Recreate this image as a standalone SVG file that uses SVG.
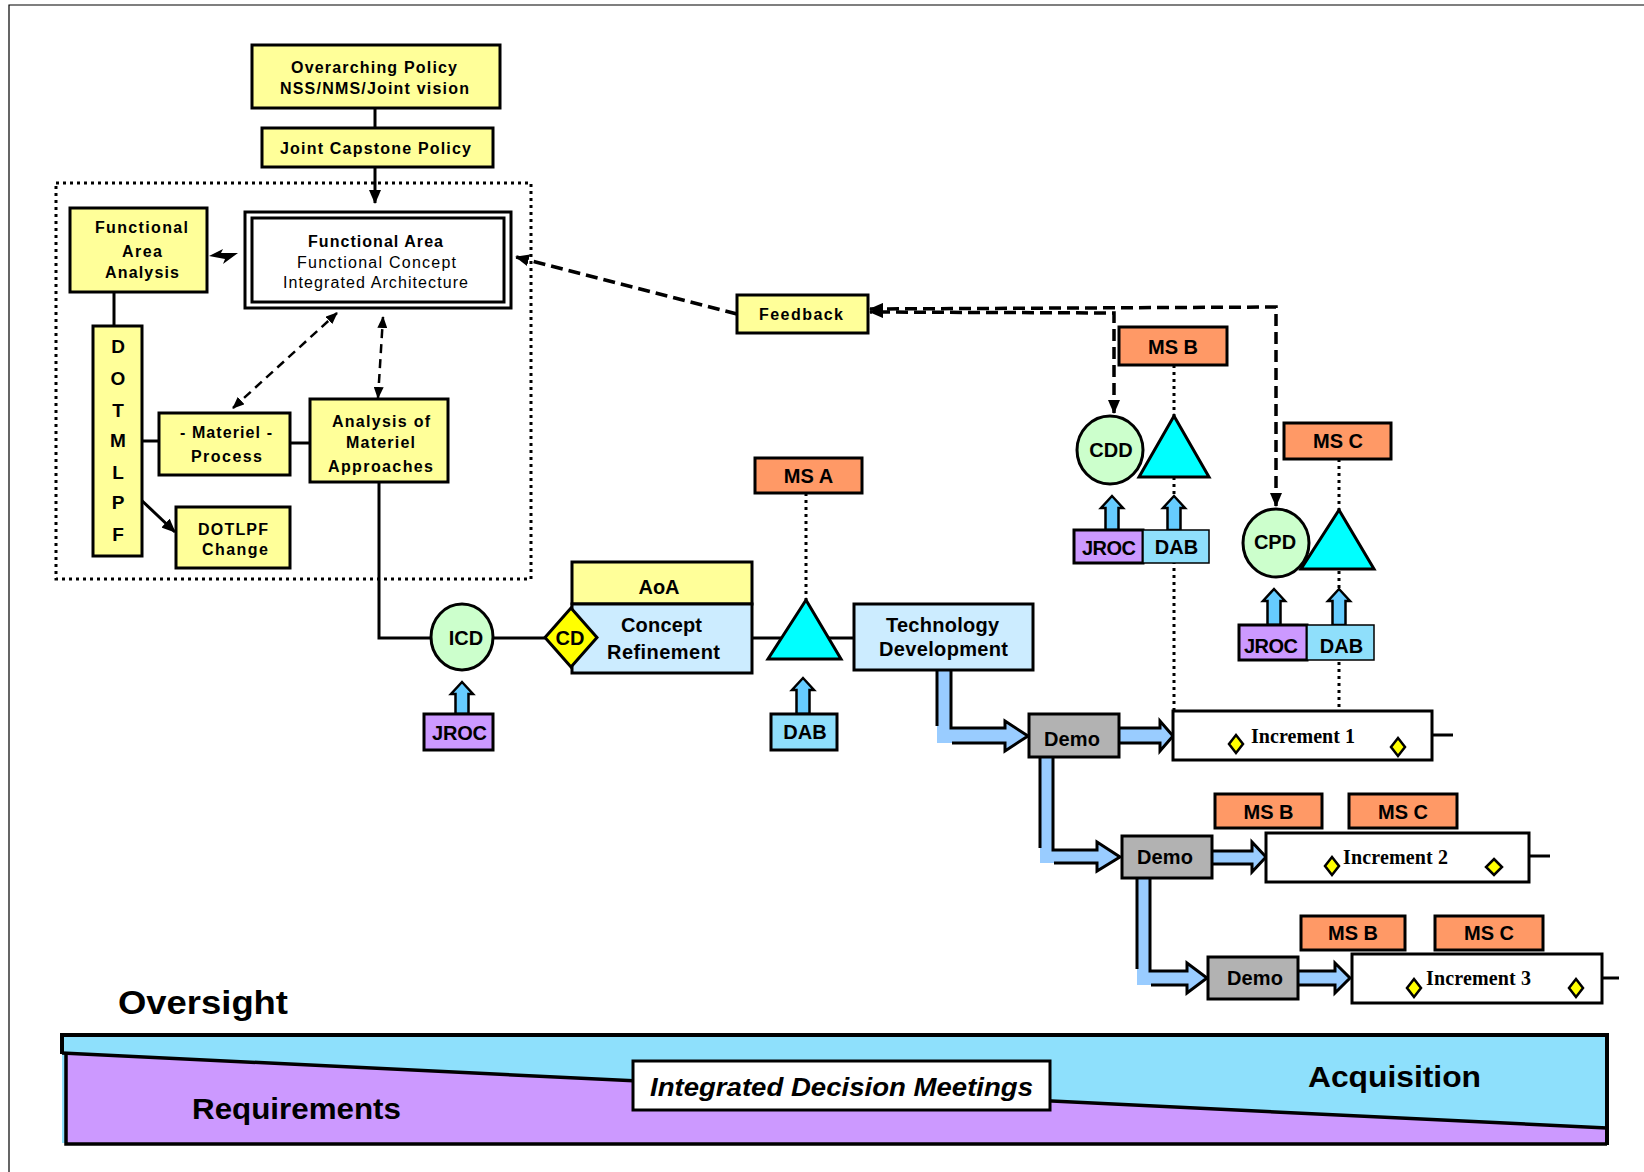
<svg xmlns="http://www.w3.org/2000/svg" width="1644" height="1172" viewBox="0 0 1644 1172">
<defs>
<style>
.b{stroke:#000;stroke-width:3}
.yl{fill:#FFFF99}.ms{fill:#FF9966}.lb{fill:#CCECFF}.gr{fill:#CCFFCC}.cy{fill:#00FFFF}.jr{fill:#CC99FF}.db{fill:#8FDFFB}.dm{fill:#B2B2B2}.wh{fill:#FFFFFF}
.ua{fill:#66CCFF;stroke:#000;stroke-width:2.5;stroke-linejoin:miter}
.t{font-family:"Liberation Sans",Arial,sans-serif;font-weight:bold;font-size:16px;text-anchor:middle;fill:#000}
.r{font-weight:normal}
.t20{font-size:20px}
.inc{font-family:"Liberation Serif","Times New Roman",serif;font-weight:bold;font-size:20px;text-anchor:middle}
.ln{stroke:#000;stroke-width:3;fill:none}
.dot{stroke:#000;stroke-width:3;fill:none;stroke-dasharray:3 4}
.dsh{stroke:#000;stroke-width:3.5;fill:none;stroke-dasharray:12 6}
.dsh2{stroke:#000;stroke-width:2.5;fill:none;stroke-dasharray:9 6}
.ba{fill:#99CCFF}
.bs{fill:none;stroke:#000;stroke-width:3;stroke-linejoin:miter}
.dia{fill:#FFFF00;stroke:#000;stroke-width:2.5}
</style>
<marker id="ah" viewBox="0 0 14 12" refX="13" refY="6" markerWidth="14" markerHeight="12" markerUnits="userSpaceOnUse" orient="auto-start-reverse"><path d="M0,0 L14,6 L0,12 Z" fill="#000"/></marker>
<marker id="ahs" viewBox="0 0 12 10" refX="11" refY="5" markerWidth="12" markerHeight="10" markerUnits="userSpaceOnUse" orient="auto-start-reverse"><path d="M0,0 L12,5 L0,10 Z" fill="#000"/></marker>
</defs>
<rect width="1644" height="1172" fill="#fff"/>
<path d="M9,1172 L9,5 L1644,5" fill="none" stroke="#000" stroke-width="1.2"/>

<g id="connectors">
<rect x="56" y="183" width="475" height="396" class="dot" stroke-width="2.5"/>
<line x1="375" y1="108" x2="375" y2="128" class="ln"/>
<line x1="375" y1="167" x2="375" y2="203" class="ln" marker-end="url(#ah)"/>
<polygon points="209,256 223,249 221,253 238,253 223,264 225,259" fill="#000"/>
<line x1="114" y1="292" x2="114" y2="326" class="ln"/>
<line x1="142" y1="441" x2="159" y2="441" class="ln"/>
<line x1="290" y1="443" x2="310" y2="443" class="ln"/>
<line x1="138" y1="497" x2="175" y2="532" class="ln" marker-end="url(#ah)"/>
<line x1="233" y1="408" x2="337" y2="313" class="dsh2" marker-start="url(#ahs)" marker-end="url(#ahs)"/>
<line x1="378" y1="398" x2="383" y2="317" class="dsh2" marker-start="url(#ahs)" marker-end="url(#ahs)"/>
<polyline points="379,482 379,638 431,638" class="ln"/>
<line x1="493" y1="638" x2="545" y2="638" class="ln"/>
<line x1="752" y1="638" x2="854" y2="638" class="ln"/>
<line x1="806" y1="493" x2="806" y2="600" class="dot"/>
<line x1="1174" y1="365" x2="1174" y2="711" class="dot"/>
<line x1="1339" y1="459" x2="1339" y2="711" class="dot"/>
<line x1="737" y1="314" x2="516" y2="257" class="dsh" marker-end="url(#ah)"/>
<polyline points="1114,413 1114,313 870,312" class="dsh" marker-start="url(#ah)" marker-end="url(#ah)"/>
<polyline points="1276,506 1276,307 870,309" class="dsh" marker-start="url(#ah)" marker-end="url(#ah)"/>
<line x1="1432" y1="735" x2="1453" y2="735" class="ln"/>
<line x1="1529" y1="856" x2="1550" y2="856" class="ln"/>
<line x1="1602" y1="978" x2="1619" y2="978" class="ln"/>
<!-- block arrows -->
<polygon class="ba" points="937,670 951,670 951,728 1005,728 1005,721 1028,736 1005,751 1005,743 937,743"/>
<polyline class="bs" points="937,670 937,726"/>
<polyline class="bs" points="951,670 951,728 1005,728 1005,721 1028,736 1005,751 1005,743 952,743"/>
<polygon class="ba" points="1119,728 1160,728 1160,721 1173,736 1160,751 1160,743 1119,743"/>
<polyline class="bs" points="1119,728 1160,728 1160,721 1173,736 1160,751 1160,743 1119,743"/>
<polygon class="ba" points="1040,757 1053,757 1053,850 1097,850 1097,842 1120,857 1097,871 1097,863 1040,863"/>
<polyline class="bs" points="1040,757 1040,848"/>
<polyline class="bs" points="1053,757 1053,850 1097,850 1097,842 1120,857 1097,871 1097,863 1054,863"/>
<polygon class="ba" points="1213,851 1252,851 1252,842 1266,857 1252,872 1252,864 1213,864"/>
<polyline class="bs" points="1213,851 1252,851 1252,842 1266,857 1252,872 1252,864 1213,864"/>
<polygon class="ba" points="1137,878 1150,878 1150,971 1187,971 1187,963 1207,978 1187,993 1187,985 1137,985"/>
<polyline class="bs" points="1137,878 1137,969"/>
<polyline class="bs" points="1150,878 1150,971 1187,971 1187,963 1207,978 1187,993 1187,985 1151,985"/>
<polygon class="ba" points="1298,971 1335,971 1335,963 1350,978 1335,993 1335,985 1298,985"/>
<polyline class="bs" points="1298,971 1335,971 1335,963 1350,978 1335,993 1335,985 1298,985"/>
<!-- up arrows -->
<polygon class="ua" points="455.5,714 455.5,694 451,694 462,682 473,694 468.5,694 468.5,714"/>
<polygon class="ua" points="796.5,714 796.5,690 792,690 803,678 814,690 809.5,690 809.5,714"/>
<polygon class="ua" points="1105.5,530 1105.5,508 1101,508 1112,496 1123,508 1118.5,508 1118.5,530"/>
<polygon class="ua" points="1167.5,530 1167.5,508 1163,508 1174,496 1185,508 1180.5,508 1180.5,530"/>
<polygon class="ua" points="1267.5,625 1267.5,601 1263,601 1274,589 1285,601 1280.5,601 1280.5,625"/>
<polygon class="ua" points="1332.5,625 1332.5,601 1328,601 1339,589 1350,601 1345.5,601 1345.5,625"/>
</g>

<g id="overarching">
<rect x="252" y="45" width="248" height="63" class="b yl"/>
<text class="t" x="374" y="73" textLength="166">Overarching Policy</text>
<text class="t" x="374.5" y="94" textLength="189">NSS/NMS/Joint vision</text>
</g>
<g id="capstone">
<rect x="262" y="128" width="231" height="39" class="b yl"/>
<text class="t" x="375.5" y="154" textLength="191">Joint Capstone Policy</text>
</g>
<g id="faa">
<rect x="70" y="208" width="137" height="84" class="b yl"/>
<text class="t" x="141.5" y="233" textLength="93">Functional</text>
<text class="t" x="142" y="257" textLength="40">Area</text>
<text class="t" x="142" y="278" textLength="74">Analysis</text>
</g>
<g id="functional-area">
<rect x="245" y="212" width="266" height="96" class="b wh"/>
<rect x="252" y="218" width="252" height="84" class="b wh"/>
<text class="t" x="375.5" y="247" textLength="135">Functional Area</text>
<text class="t r" x="376.5" y="268" textLength="159">Functional Concept</text>
<text class="t r" x="375.5" y="288" textLength="185">Integrated Architecture</text>
</g>
<g id="dotmlpf">
<rect x="93" y="326" width="49" height="230" class="b yl"/>
<text class="t" style="font-size:19px" x="118" y="353">D</text>
<text class="t" style="font-size:19px" x="118" y="385">O</text>
<text class="t" style="font-size:19px" x="118" y="417">T</text>
<text class="t" style="font-size:19px" x="118" y="447">M</text>
<text class="t" style="font-size:19px" x="118" y="479">L</text>
<text class="t" style="font-size:19px" x="118" y="509">P</text>
<text class="t" style="font-size:19px" x="118" y="541">F</text>
</g>
<g id="materiel-process">
<rect x="159" y="413" width="131" height="62" class="b yl"/>
<text class="t" x="226" y="438" textLength="92">- Materiel -</text>
<text class="t" x="226.5" y="462" textLength="71">Process</text>
</g>
<g id="aoma">
<rect x="310" y="399" width="138" height="83" class="b yl"/>
<text class="t" x="381" y="427" textLength="98">Analysis of</text>
<text class="t" x="380.5" y="448" textLength="69">Materiel</text>
<text class="t" x="380.5" y="472" textLength="105">Approaches</text>
</g>
<g id="dotlpf-change">
<rect x="176" y="507" width="114" height="61" class="b yl"/>
<text class="t" x="233" y="535" textLength="70">DOTLPF</text>
<text class="t" x="235" y="555" textLength="66">Change</text>
</g>
<g id="feedback">
<rect x="737" y="295" width="131" height="38" class="b yl"/>
<text class="t" x="801" y="320" textLength="84">Feedback</text>
</g>
<g id="icd">
<ellipse cx="462" cy="637" rx="31" ry="33" class="b gr"/>
<text class="t t20" x="466" y="645">ICD</text>
</g>
<g id="jroc-icd">
<rect x="424" y="714" width="69" height="36" class="b jr"/>
<text class="t t20" x="459.5" y="740" textLength="55">JROC</text>
</g>
<g id="aoa">
<rect x="572" y="562" width="180" height="42" class="b yl"/>
<text class="t t20" x="659" y="594">AoA</text>
</g>
<g id="concept-refinement">
<rect x="572" y="604" width="180" height="69" class="b lb"/>
<text class="t t20" x="661.5" y="632" textLength="81">Concept</text>
<text class="t t20" x="663.5" y="659" textLength="113">Refinement</text>
</g>
<g id="cd">
<polygon points="545,637.5 571,608 597,637.5 571,667" class="b" fill="#FFFF00"/>
<text class="t t20" x="570" y="645">CD</text>
</g>
<g id="ms-a">
<rect x="755" y="458" width="107" height="35" class="b ms"/>
<text class="t t20" x="808.5" y="483">MS A</text>
</g>
<g id="triangle-a">
<polygon points="806,600 841,659 768,659" class="b cy"/>
</g>
<g id="dab-a">
<rect x="771" y="714" width="66" height="36" class="b db"/>
<text class="t t20" x="805" y="739">DAB</text>
</g>
<g id="tech-dev">
<rect x="854" y="604" width="179" height="66" class="b lb"/>
<text class="t t20" x="942.5" y="632" textLength="113">Technology</text>
<text class="t t20" x="943.5" y="656" textLength="129">Development</text>
</g>
<g id="ms-b-top">
<rect x="1119" y="327" width="108" height="38" class="b ms"/>
<text class="t t20" x="1173" y="354">MS B</text>
</g>
<g id="cdd">
<ellipse cx="1110" cy="450" rx="33" ry="34" class="b gr"/>
<text class="t t20" x="1111" y="457">CDD</text>
</g>
<g id="triangle-b">
<polygon points="1174,416 1209,477 1139,477" class="b cy"/>
</g>
<g id="jroc-b">
<rect x="1074" y="530" width="69" height="33" class="b jr"/>
<text class="t t20" x="1109" y="555" textLength="54">JROC</text>
</g>
<g id="dab-b">
<rect x="1143" y="530" width="66" height="33" class="db" stroke="#000" stroke-width="1.5"/>
<text class="t t20" x="1176.5" y="554">DAB</text>
</g>
<g id="ms-c-top">
<rect x="1284" y="423" width="107" height="36" class="b ms"/>
<text class="t t20" x="1338" y="448">MS C</text>
</g>
<g id="cpd">
<ellipse cx="1276" cy="543" rx="33" ry="34" class="b gr"/>
<text class="t t20" x="1275" y="549">CPD</text>
</g>
<g id="triangle-c">
<polygon points="1339,510 1374,569 1301,569" class="b cy"/>
</g>
<g id="jroc-c">
<rect x="1239" y="625" width="68" height="35" class="b jr"/>
<text class="t t20" x="1271" y="653" textLength="54">JROC</text>
</g>
<g id="dab-c">
<rect x="1307" y="625" width="67" height="35" class="db" stroke="#000" stroke-width="1.5"/>
<text class="t t20" x="1341.5" y="653">DAB</text>
</g>
<g id="demo-1">
<rect x="1029" y="714" width="90" height="43" class="b dm"/>
<text class="t t20" x="1072" y="746" textLength="56">Demo</text>
</g>
<g id="increment-1">
<rect x="1173" y="711" width="259" height="49" class="b wh"/>
<text class="inc" x="1303" y="743" textLength="104">Increment 1</text>
<polygon class="dia" points="1236,735 1243,744 1236,753 1229,744"/>
<polygon class="dia" points="1398,738 1405,747 1398,756 1391,747"/>
</g>
<g id="demo-2">
<rect x="1122" y="836" width="90" height="42" class="b dm"/>
<text class="t t20" x="1165" y="864" textLength="56">Demo</text>
</g>
<g id="ms-b-2">
<rect x="1215" y="794" width="107" height="34" class="b ms"/>
<text class="t t20" x="1268.5" y="819">MS B</text>
</g>
<g id="ms-c-2">
<rect x="1349" y="794" width="108" height="34" class="b ms"/>
<text class="t t20" x="1403" y="819">MS C</text>
</g>
<g id="increment-2">
<rect x="1266" y="833" width="263" height="49" class="b wh"/>
<text class="inc" x="1395.5" y="864" textLength="105">Increment 2</text>
<polygon class="dia" points="1332,857 1339,866 1332,875 1325,866"/>
<polygon class="dia" points="1494,859 1502,867 1494,875 1486,867"/>
</g>
<g id="demo-3">
<rect x="1208" y="957" width="90" height="42" class="b dm"/>
<text class="t t20" x="1255" y="985" textLength="56">Demo</text>
</g>
<g id="ms-b-3">
<rect x="1301" y="916" width="104" height="34" class="b ms"/>
<text class="t t20" x="1353" y="940">MS B</text>
</g>
<g id="ms-c-3">
<rect x="1435" y="916" width="108" height="34" class="b ms"/>
<text class="t t20" x="1489" y="940">MS C</text>
</g>
<g id="increment-3">
<rect x="1352" y="954" width="250" height="49" class="b wh"/>
<text class="inc" x="1478.5" y="985" textLength="105">Increment 3</text>
<polygon class="dia" points="1414,979 1421,988 1414,997 1407,988"/>
<polygon class="dia" points="1576,979 1583,988 1576,997 1569,988"/>
</g>

<g id="oversight">
<text x="118" y="1014" font-family="'Liberation Sans',Arial,sans-serif" font-weight="bold" font-size="34" textLength="170" lengthAdjust="spacingAndGlyphs">Oversight</text>
<rect x="62" y="1035" width="1545" height="108" fill="#8EE0FC"/>
<polygon points="66,1054 1607,1128 1607,1143 66,1143" fill="#CC99FF"/>
<line x1="62" y1="1053" x2="1607" y2="1128" stroke="#000" stroke-width="3.5"/>
<polyline points="62,1054 62,1035 1607,1035 1607,1145" fill="none" stroke="#000" stroke-width="4"/>
<polyline points="66,1053 66,1144 1607,1144" fill="none" stroke="#000" stroke-width="3.5"/>
<text x="192" y="1119" font-family="'Liberation Sans',Arial,sans-serif" font-weight="bold" font-size="30" textLength="209" lengthAdjust="spacingAndGlyphs">Requirements</text>
<text x="1308" y="1087" font-family="'Liberation Sans',Arial,sans-serif" font-weight="bold" font-size="30" textLength="173" lengthAdjust="spacingAndGlyphs">Acquisition</text>
</g>
<g id="idm">
<rect x="633" y="1061" width="417" height="49" fill="#fff" stroke="#000" stroke-width="3"/>
<text x="841.5" y="1096" text-anchor="middle" font-family="'Liberation Sans',Arial,sans-serif" font-weight="bold" font-style="italic" font-size="26" textLength="383" lengthAdjust="spacingAndGlyphs">Integrated Decision Meetings</text>
</g>
</svg>
